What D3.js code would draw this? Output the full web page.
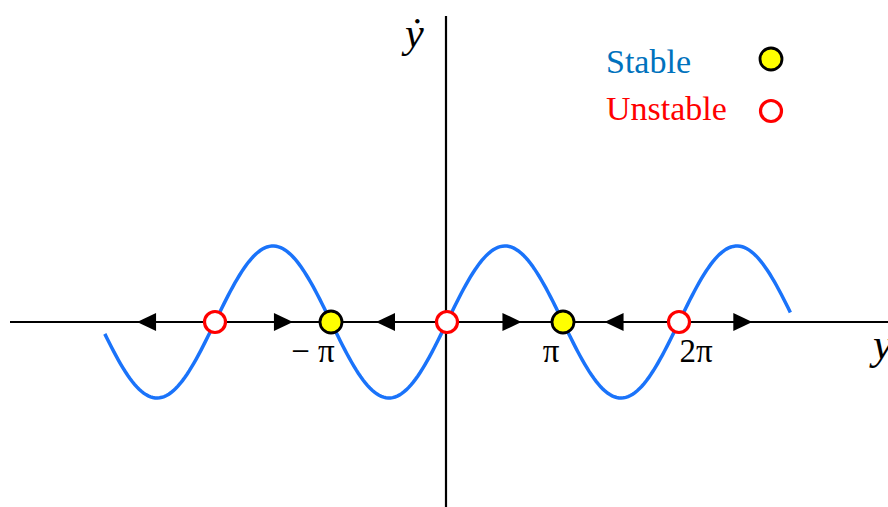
<!DOCTYPE html>
<html>
<head>
<meta charset="utf-8">
<script src="https://cdn.jsdelivr.net/npm/d3@7"></script>
<style>
  body { margin: 0; background: #fff; }
  svg { display: block; }
</style>
</head>
<body>
<div id="chart"></div>
<script>
// values are in units of pi along the y axis
const curveRange = [-2.95, 2.96];
const stablePoints = [-1, 1];
const unstablePoints = [-2, 0, 2];
const leftArrows = [-2.59, -0.53, 1.44];
const rightArrows = [-1.41, 0.56, 2.55];
const tickValues = [-1, 1, 2];
const tickLabels = ['\u2212 \u03c0', '\u03c0', '2\u03c0'];
const legendLabels = ['Stable', 'Unstable'];

const width = 888, height = 507;

const svg = d3.select('#chart')
    .append('svg')
    .attr('width', width)
    .attr('height', height);

// scales
const x = d3.scaleLinear().domain([-2, 2]).range([215, 679]);
const y = d3.scaleLinear().domain([-1, 1]).range([398, 246]);

// axes
svg.append('line')
    .attr('x1', 10).attr('x2', width)
    .attr('y1', y(0)).attr('y2', y(0))
    .attr('stroke', '#000')
    .attr('stroke-width', 2.2);

svg.append('line')
    .attr('x1', x(0) - 1).attr('x2', x(0) - 1)
    .attr('y1', 16).attr('y2', height)
    .attr('stroke', '#000')
    .attr('stroke-width', 2.2);

// sin curve
const samples = d3.range(0, 301).map(i => curveRange[0] + (curveRange[1] - curveRange[0]) * i / 300);
const line = d3.line()
    .x(d => x(d))
    .y(d => y(Math.sin(d * Math.PI)));

svg.append('path')
    .datum(samples)
    .attr('d', line)
    .attr('fill', 'none')
    .attr('stroke', '#1a73fa')
    .attr('stroke-width', 3.5);

// flow arrows
const arrowLen = 19, arrowHalf = 9;
const arrowGroup = svg.append('g');

arrowGroup.selectAll('path.left')
    .data(leftArrows)
    .enter()
    .append('path')
    .attr('class', 'left')
    .attr('d', d => {
        const cx = x(d), cy = y(0);
        return `M${cx - arrowLen / 2},${cy}L${cx + arrowLen / 2},${cy - arrowHalf}L${cx + arrowLen / 2},${cy + arrowHalf}Z`;
    })
    .attr('fill', '#000');

arrowGroup.selectAll('path.right')
    .data(rightArrows)
    .enter()
    .append('path')
    .attr('class', 'right')
    .attr('d', d => {
        const cx = x(d), cy = y(0);
        return `M${cx + arrowLen / 2},${cy}L${cx - arrowLen / 2},${cy - arrowHalf}L${cx - arrowLen / 2},${cy + arrowHalf}Z`;
    })
    .attr('fill', '#000');

// fixed points
svg.append('g')
    .selectAll('circle')
    .data(unstablePoints)
    .enter()
    .append('circle')
    .attr('cx', d => x(d))
    .attr('cy', y(0))
    .attr('r', 10.5)
    .attr('fill', '#fff')
    .attr('stroke', '#ff0000')
    .attr('stroke-width', 3.2);

svg.append('g')
    .selectAll('circle')
    .data(stablePoints)
    .enter()
    .append('circle')
    .attr('cx', d => x(d))
    .attr('cy', y(0))
    .attr('r', 11)
    .attr('fill', '#ffff00')
    .attr('stroke', '#000')
    .attr('stroke-width', 2.8);

// tick labels
const tickOffsets = [-18, -12, 17];
svg.append('g')
    .selectAll('text')
    .data(tickValues)
    .enter()
    .append('text')
    .attr('x', (d, i) => x(d) + tickOffsets[i])
    .attr('y', 362)
    .attr('text-anchor', 'middle')
    .attr('font-family', '"Liberation Serif", "DejaVu Serif", serif')
    .attr('font-size', 33)
    .attr('fill', '#000')
    .text((d, i) => tickLabels[i]);

// axis labels
svg.append('text')
    .attr('x', 873)
    .attr('y', 359)
    .attr('font-family', '"Liberation Serif", "DejaVu Serif", serif')
    .attr('font-style', 'italic')
    .attr('font-size', 44)
    .attr('fill', '#000')
    .text('y');

svg.append('text')
    .attr('x', 405)
    .attr('y', 47)
    .attr('font-family', '"Liberation Serif", "DejaVu Serif", serif')
    .attr('font-style', 'italic')
    .attr('font-size', 42)
    .attr('fill', '#000')
    .text('\u1e8f');

// legend
const legendColors = ['#0072bd', '#ff0000'];
const legendBaselines = [73, 120];
const legend = svg.append('g');

legend.selectAll('text')
    .data(legendLabels)
    .enter()
    .append('text')
    .attr('x', 606)
    .attr('y', (d, i) => legendBaselines[i])
    .attr('font-family', '"Liberation Serif", "Times New Roman", serif')
    .attr('font-size', 34)
    .attr('fill', (d, i) => legendColors[i])
    .text(d => d);

legend.append('circle')
    .attr('cx', 771).attr('cy', 59)
    .attr('r', 11)
    .attr('fill', '#ffff00')
    .attr('stroke', '#000')
    .attr('stroke-width', 2.8);

legend.append('circle')
    .attr('cx', 771).attr('cy', 111)
    .attr('r', 10.5)
    .attr('fill', '#fff')
    .attr('stroke', '#ff0000')
    .attr('stroke-width', 3.2);
</script>
</body>
</html>
